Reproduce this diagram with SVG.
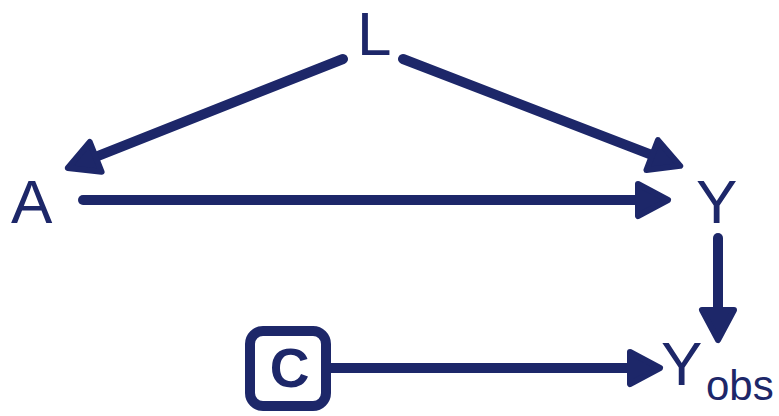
<svg xmlns="http://www.w3.org/2000/svg" width="779" height="416" viewBox="0 0 779 416">
<style>
.lbl{font-family:"Liberation Sans",Arial,sans-serif;fill:#1d2769}
.edge{stroke:#1d2769;stroke-width:10;stroke-linecap:round;fill:none}
</style>
<defs>
<marker id="ah" markerUnits="userSpaceOnUse" viewBox="-5 -22 42 44" markerWidth="42" markerHeight="44" refX="0" refY="0" orient="auto">
<path d="M0,-16 L30,0 L0,16 Z" fill="#1d2769" stroke="#1d2769" stroke-width="6" stroke-linejoin="round"/>
</marker>
</defs>
<rect width="779" height="416" fill="#ffffff"/>
<g id="connectors">
<line class="edge" x1="343" y1="59" x2="95.7" y2="156.9" marker-end="url(#ah)"/>
<line class="edge" x1="403" y1="59" x2="652.2" y2="155.1" marker-end="url(#ah)"/>
<line class="edge" x1="83" y1="200" x2="638" y2="200" marker-end="url(#ah)"/>
<line class="edge" x1="718" y1="238" x2="718" y2="310" marker-end="url(#ah)"/>
<line class="edge" x1="331" y1="368" x2="630" y2="368" marker-end="url(#ah)"/>
</g>
<g id="node-L"><text class="lbl" x="357" y="55" font-size="62">L</text></g>
<g id="node-A"><text class="lbl" x="11" y="223" font-size="62">A</text></g>
<g id="node-Y"><text class="lbl" x="696" y="223" font-size="62">Y</text></g>
<g id="node-Yobs"><text class="lbl" x="661" y="385" font-size="62">Y<tspan x="706" y="400" font-size="42">obs</tspan></text></g>
<g id="node-C">
<rect x="250" y="331" width="76" height="75" rx="13" fill="none" stroke="#1d2769" stroke-width="10"/>
<text class="lbl" x="289.5" y="387" font-size="55" font-weight="bold" text-anchor="middle">C</text>
</g>
</svg>
